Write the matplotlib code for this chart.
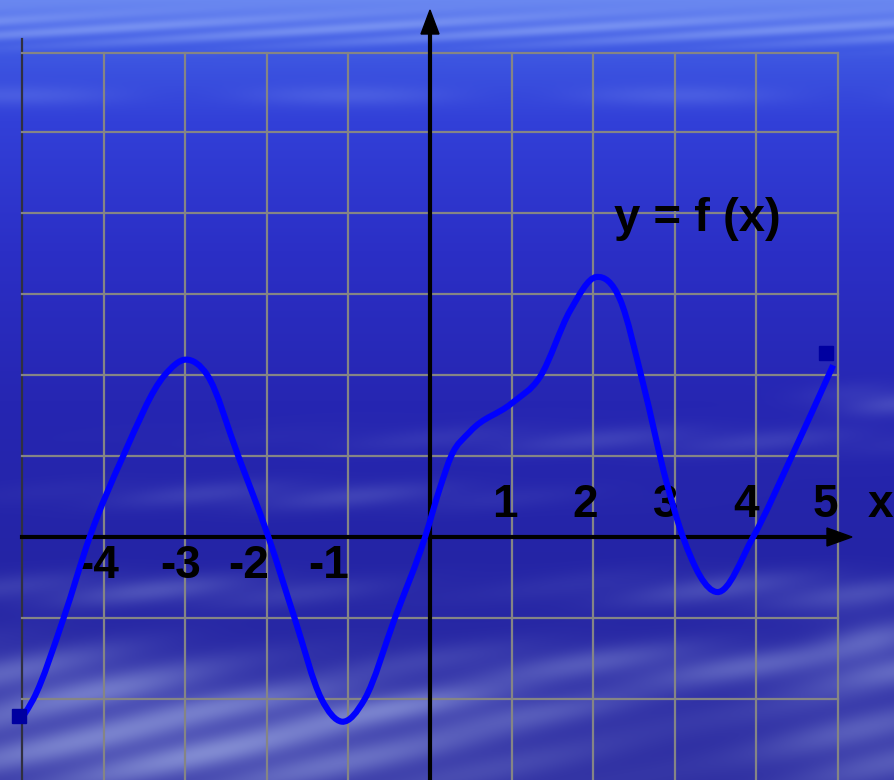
import numpy as np
import matplotlib
matplotlib.use('Agg')
import matplotlib.pyplot as plt
from matplotlib.path import Path
from matplotlib.patches import PathPatch, Polygon

curve_x = [-4.99, -4.86, -4.49, -4.17, -3.76, -3.25, -2.99, -2.73, -2.35, -1.98,
           -1.66, -1.33, -1.08, -0.80, -0.43, -0.06, 0.12, 0.26, 0.49, 1.0,
           1.35, 1.72, 2.04, 2.33, 2.61, 2.90, 3.10, 3.52, 3.96, 4.43, 4.94]
curve_y = [-2.22, -2.00, -1.00, 0.0, 1.0, 2.0, 2.19, 2.0, 1.0, 0.0,
           -1.00, -2.0, -2.28, -2.0, -1.00, 0.0, 0.60, 1.0, 1.30, 1.65,
           1.98, 2.80, 3.21, 2.93, 1.90, 0.67, 0.0, -0.68, 0.0, 0.99, 2.12]
end_x = [-5.04, 4.85]
end_y = [-2.21, 2.27]

neg_ticks = [-4, -3, -2, -1]
pos_ticks = [1, 2, 3, 4, 5]
grid_x = list(range(-5, 6))
grid_y = [-2, -1, 1, 2, 3, 4, 5, 6]

W, H = 894, 780
UX, UY = 81.6, 81.0
X0, Y0 = 430, 537


def dx(p):
    return (p - X0) / UX


def dy(p):
    return (Y0 - p) / UY


xmin, xmax = dx(0), dx(W)
ymin, ymax = dy(H), dy(0)

# sky background
yy, xx = np.mgrid[0:H, 0:W].astype(float)
rows = [0, 25, 50, 120, 250, 400, 550, 780]
cols = np.array([(105, 135, 240), (90, 118, 236), (62, 88, 226), (50, 64, 216),
                 (43, 47, 198), (38, 38, 178), (36, 36, 166), (44, 44, 160)], float)
bg = np.stack([np.interp(yy, rows, cols[:, k]) for k in range(3)], axis=-1)

streak = np.exp(-((yy - 28) / 16.0) ** 2) * (0.5 + 0.5 * np.sin(xx / 37.0 + yy / 2.5))
streak += 0.4 * np.exp(-((yy - 95) / 10.0) ** 2) * (0.5 + 0.5 * np.sin(xx / 53.0 + 1.3))
clouds = [
    (180, 750, 330, 45, 0.8),
    (60, 680, 160, 35, 0.55),
    (400, 705, 220, 22, 0.5),
    (700, 665, 330, 22, 0.45),
    (880, 740, 120, 60, 0.45),
    (150, 590, 200, 16, 0.35),
    (780, 590, 200, 18, 0.35),
    (300, 495, 220, 14, 0.25),
    (650, 440, 300, 14, 0.22),
    (880, 400, 60, 14, 0.35),
    (880, 640, 60, 30, 0.4),
]
mask = np.zeros_like(xx)
for cx, cy, sx, sy, a in clouds:
    mask += a * np.exp(-((xx - cx) / sx) ** 2 - ((yy - cy) / sy) ** 2) * \
        (0.75 + 0.25 * np.sin(xx / 29.0 + yy / 7.0))
mask = np.clip(mask, 0, 1)
cloud_col = np.array([150, 162, 222], float)
bg = bg * (1 - mask[..., None]) + cloud_col * mask[..., None]
top_col = np.array([140, 165, 246], float)
s = np.clip(streak * 0.55, 0, 1)[..., None]
bg = bg * (1 - s) + top_col * s
bg = np.clip(bg, 0, 255).astype(np.uint8)

fig = plt.figure(figsize=(W / 100, H / 100), dpi=100)
ax = fig.add_axes([0, 0, 1, 1])
ax.imshow(bg, extent=(xmin, xmax, ymin, ymax), aspect='auto', zorder=0,
          interpolation='bilinear')
ax.set_xlim(xmin, xmax)
ax.set_ylim(ymin, ymax)
ax.axis('off')

# grid
gray = '#858585'
top = dy(53)
for gx in grid_x:
    if gx == 0:
        continue
    if gx == -5:
        ax.plot([gx, gx], [ymin, dy(39)], color='#303040', lw=1.6, zorder=2)
    else:
        ax.plot([gx, gx], [ymin, top], color=gray, lw=1.6, zorder=2)
for gy in grid_y:
    yv = top if gy == 6 else gy
    ax.plot([-5, 5], [yv, yv], color=gray, lw=1.6, zorder=2)

# axes with arrows
ax.plot([-5, dx(830)], [0, 0], color='black', lw=3, zorder=3)
ax.add_patch(Polygon([[dx(852), 0], [dx(827), dy(528)], [dx(827), dy(546)]],
                     closed=True, color='black', zorder=3))
ax.plot([0, 0], [ymin, dy(32)], color='black', lw=3, zorder=3)
ax.add_patch(Polygon([[0, dy(10)], [dx(421), dy(34)], [dx(439), dy(34)]],
                     closed=True, color='black', zorder=3))

# labels
font = dict(family=['Liberation Sans', 'DejaVu Sans'], weight='bold',
            fontsize=33, color='black', zorder=4)
neg_px = [99, 181, 249, 329]
for t, p in zip(neg_ticks, neg_px):
    ax.text(dx(p), dy(578), str(t), ha='center', va='baseline', **font)
pos_px = [505, 585, 666, 746, 825]
for t, p in zip(pos_ticks, pos_px):
    ax.text(dx(p), dy(517), str(t), ha='center', va='baseline', **font)
ax.text(dx(880), dy(517), 'x', ha='center', va='baseline', **font)
ax.text(dx(697), dy(231), 'y = f (x)', ha='center', va='baseline',
        **dict(font, fontsize=34))

# smooth curve through the read points (cubic Hermite in x, drawn as Bezier)
px = np.array(curve_x)
py = np.array(curve_y)
h = np.diff(px)
d = np.diff(py) / h
m = np.empty_like(px)
m[0], m[-1] = d[0], d[-1]
m[1:-1] = (d[1:] * h[:-1] + d[:-1] * h[1:]) / (h[:-1] + h[1:])
verts = [(px[0], py[0])]
codes = [Path.MOVETO]
for i in range(len(px) - 1):
    verts += [(px[i] + h[i] / 3, py[i] + m[i] * h[i] / 3),
              (px[i + 1] - h[i] / 3, py[i + 1] - m[i + 1] * h[i] / 3),
              (px[i + 1], py[i + 1])]
    codes += [Path.CURVE4] * 3
ax.add_patch(PathPatch(Path(verts, codes), fill=False, edgecolor='#0000ff',
                       lw=4.4, capstyle='butt', zorder=5))

ax.plot(end_x, end_y, 's', color='#0000a0', markersize=10.5, zorder=6)

fig.savefig('out.png', dpi=100)
